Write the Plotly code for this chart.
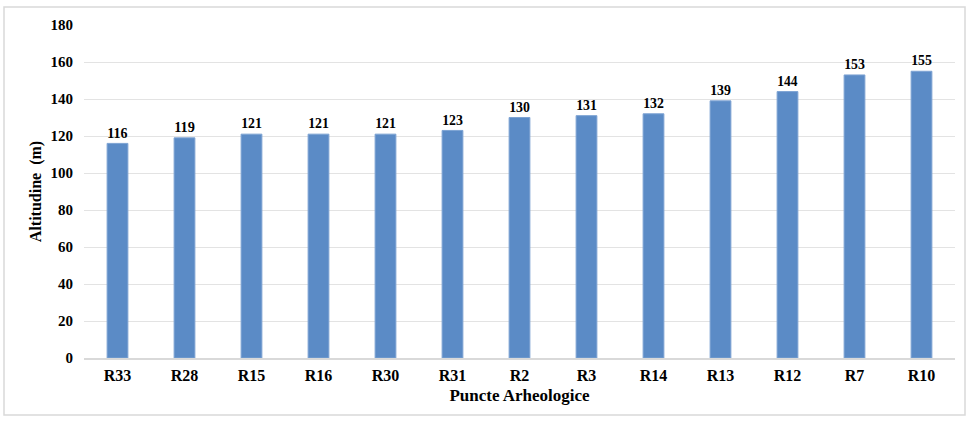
import plotly.graph_objects as go

# Archaeological points and their altitude (m)
points = ["R33", "R28", "R15", "R16", "R30", "R31", "R2", "R3", "R14", "R13", "R12", "R7", "R10"]
altitudes = [116, 119, 121, 121, 121, 123, 130, 131, 132, 139, 144, 153, 155]
y_ticks = [0, 20, 40, 60, 80, 100, 120, 140, 160, 180]

FONT = "Liberation Serif"
L, R, T, B = 84, 15, 25, 67
W, H = 970, 425
pw, ph = W - L - R, H - T - B

fig = go.Figure(go.Bar(
    x=points,
    y=altitudes,
    marker=dict(color="#5B8BC6", line=dict(color="#7DA3D3", width=1)),
    texttemplate="<b>%{y}</b>",
    textposition="outside",
    textfont=dict(family=FONT, size=15, color="#000000"),
    cliponaxis=False,
))

# light frame around the whole chart
fig.add_shape(
    type="rect", xref="paper", yref="paper",
    x0=(4 - L) / pw, x1=(965 - L) / pw,
    y0=-(415 - (H - B)) / ph, y1=((H - B) - 7) / ph,
    line=dict(color="#D9D9D9", width=1.5), fillcolor="rgba(0,0,0,0)", layer="below",
)

fig.update_layout(
    width=W, height=H,
    margin=dict(l=L, r=R, t=T, b=B),
    paper_bgcolor="white", plot_bgcolor="white",
    bargap=0.69,
    showlegend=False,
    font=dict(family=FONT, size=15, color="#000000"),
    xaxis=dict(
        title=dict(text="<b>Puncte Arheologice</b>", font=dict(family=FONT, size=17), standoff=6),
        tickfont=dict(family=FONT, size=16),
        tickprefix="<b>", ticksuffix="</b>",
        ticklabelstandoff=2,
        showline=True, linecolor="#D9D9D9", linewidth=1.5,
        ticks="", showgrid=False,
    ),
    yaxis=dict(
        title=dict(text="<b>Altitudine  (m)</b>", font=dict(family=FONT, size=16), standoff=4),
        range=[0, 180],
        tickvals=y_ticks,
        ticktext=[f"<b>{v}</b>" for v in y_ticks],
        tickfont=dict(family=FONT, size=15),
        ticklabelstandoff=10,
        showgrid=True, gridcolor="#E3E3E3", gridwidth=1.2,
        zeroline=False, ticks="", ticklen=0,
        showline=False,
    ),
)

fig.write_html("out.html")
